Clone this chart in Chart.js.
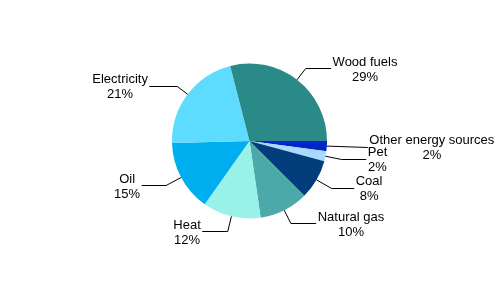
<!DOCTYPE html>
<html>
<head>
<meta charset="utf-8">
<script src="https://cdn.jsdelivr.net/npm/chart.js@4/dist/chart.umd.min.js"></script>
<style>
  html, body { margin: 0; padding: 0; background: #ffffff; }
  #wrap { width: 499px; height: 282px; }
</style>
</head>
<body>
<div id="wrap"><canvas id="c" width="499" height="282"></canvas></div>
<script>
// Data (clockwise from 3 o'clock)
const categories = ['Other energy sources', 'Pet', 'Coal', 'Natural gas', 'Heat', 'Oil', 'Electricity', 'Wood fuels'];
const shares = [2.1, 2.1, 8.3, 10.2, 12.1, 14.8, 21.4, 29.0];
const percentLabels = ['2%', '2%', '8%', '10%', '12%', '15%', '21%', '29%'];

const sliceColors = ['#0026C9', '#A9D9FF', '#003D7A', '#4BA9A9', '#99F2E8', '#00AEEF', '#5DDCFF', '#298A87'];

// label offsets (first text line centre) relative to the slice's outer mid point
const labelOffsets = [[105, -5.5], [52, -3.6], [52.5, 1.7], [66.7, 6.8], [-44.4, 8.6], [-54, 2], [-67.6, -14.4], [68, -17.8]];

const leaderLabels = {
  id: 'leaderLabels',
  afterDraw(chart) {
    const ctx = chart.ctx;
    const meta = chart.getDatasetMeta(0);
    ctx.save();
    ctx.font = '13px "Liberation Sans", Arial, sans-serif';
    ctx.fillStyle = '#000';
    ctx.strokeStyle = '#000';
    ctx.lineWidth = 1;
    ctx.textAlign = 'center';
    ctx.textBaseline = 'middle';
    meta.data.forEach((arc, i) => {
      const p = arc.getProps(['x', 'y', 'startAngle', 'endAngle', 'outerRadius'], true);
      const mid = (p.startAngle + p.endAngle) / 2;
      const ax = p.x + Math.cos(mid) * p.outerRadius;
      const ay = p.y + Math.sin(mid) * p.outerRadius;
      const off = labelOffsets[i];
      const lx = ax + off[0];
      const ly = ay + off[1];
      const l1 = chart.data.labels[i];
      const l2 = percentLabels[i];
      const w = Math.max(ctx.measureText(l1).width, ctx.measureText(l2).width);
      const lineY = Math.round(ly + 6) + 0.5;
      const right = off[0] > 0;
      const endX = right ? lx - w / 2 - 1.5 : lx + w / 2 + 1.5;
      ctx.beginPath();
      ctx.moveTo(ax, ay);
      const dy = lineY - ay;
      if (Math.abs(dy) > 1.5 && Math.abs(Math.sin(mid)) > 0.05) {
        const t = dy / Math.sin(mid);
        let ex = ax + Math.cos(mid) * t;
        ctx.lineTo(ex, lineY);
      }
      ctx.lineTo(endX, lineY);
      ctx.stroke();
      ctx.fillText(l1, lx, ly);
      ctx.fillText(l2, lx, ly + 15);
    });
    ctx.restore();
  }
};

new Chart(document.getElementById('c'), {
  type: 'pie',
  data: {
    labels: categories,
    datasets: [{
      data: shares,
      backgroundColor: sliceColors,
      borderWidth: 0
    }]
  },
  options: {
    responsive: false,
    animation: false,
    rotation: 90,
    layout: { padding: { left: 172, right: 172, top: 63.5, bottom: 63.5 } },
    plugins: {
      legend: { display: false },
      tooltip: { enabled: false }
    }
  },
  plugins: [leaderLabels]
});
</script>
</body>
</html>
